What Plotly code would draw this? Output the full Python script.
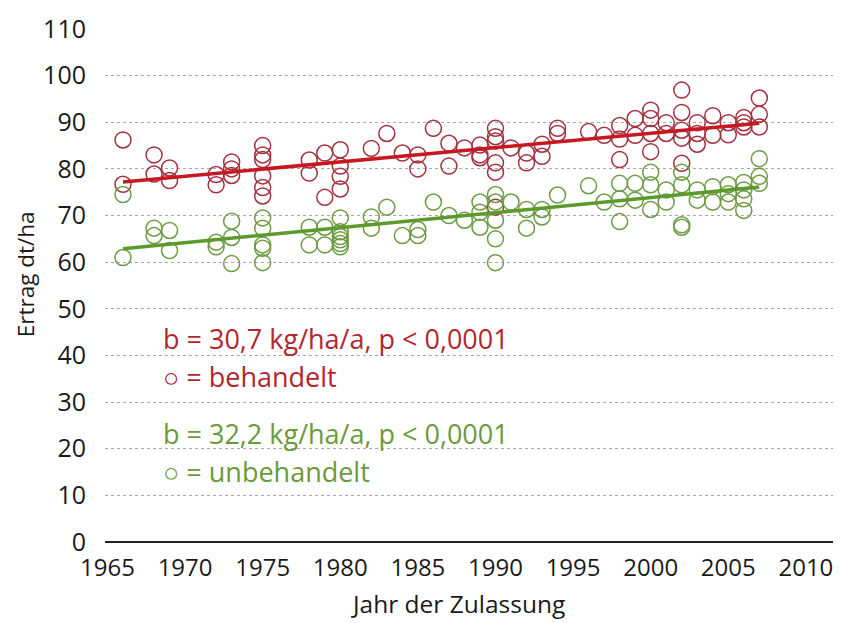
import plotly.graph_objects as go

# Behandelt (treated) yields
red_years = [1966, 1966, 1968, 1968, 1969, 1969, 1972, 1972, 1973, 1973, 1973,
             1975, 1975, 1975, 1975, 1975, 1975, 1978, 1978, 1979, 1979,
             1980, 1980, 1980, 1980, 1982, 1983, 1984, 1985, 1985, 1986, 1987, 1987,
             1988, 1989, 1989, 1989, 1990, 1990, 1990, 1990, 1990, 1990,
             1991, 1992, 1992, 1993, 1993, 1994, 1994,
             1996, 1997, 1998, 1998, 1998, 1999, 1999,
             2000, 2000, 2000, 2000, 2001, 2001,
             2002, 2002, 2002, 2002, 2002, 2003, 2003, 2003,
             2004, 2004, 2005, 2005, 2006, 2006, 2006, 2007, 2007, 2007]
red_values = [86.2, 76.7, 83.0, 78.9, 80.2, 77.5, 78.8, 76.6, 81.5, 80.0, 78.6,
              85.0, 83.0, 82.0, 78.5, 76.0, 74.2, 81.9, 79.1, 83.4, 73.9,
              84.1, 80.6, 78.4, 75.7, 84.4, 87.6, 83.4, 83.0, 80.0, 88.7, 85.5, 80.6,
              84.5, 85.1, 83.0, 82.4, 88.7, 86.9, 86.0, 81.3, 79.3, 71.8,
              84.5, 83.4, 81.3, 85.3, 82.7, 88.7, 87.6,
              88.0, 87.2, 89.3, 86.4, 82.0, 90.8, 87.2,
              92.6, 90.8, 87.6, 83.7, 89.9, 87.6,
              96.9, 92.1, 88.3, 86.6, 81.2, 89.9, 87.6, 85.3,
              91.4, 87.2, 89.9, 87.3, 91.0, 89.9, 89.0, 95.2, 91.7, 89.0]

# Unbehandelt (untreated) yields
green_years = [1966, 1966, 1968, 1968, 1969, 1969, 1972, 1972, 1973, 1973, 1973,
               1975, 1975, 1975, 1975, 1975, 1978, 1978, 1979, 1979,
               1980, 1980, 1980, 1980, 1980, 1980, 1982, 1982, 1983, 1984, 1985, 1985,
               1986, 1987, 1988, 1989, 1989, 1989, 1990, 1990, 1990, 1990, 1990,
               1991, 1992, 1992, 1993, 1993, 1994,
               1996, 1997, 1998, 1998, 1998, 1999, 1999,
               2000, 2000, 2000, 2001, 2001, 2002, 2002, 2002, 2002,
               2003, 2003, 2004, 2004, 2005, 2005, 2005,
               2006, 2006, 2006, 2006, 2007, 2007, 2007]
green_values = [74.5, 61.0, 67.3, 65.7, 66.8, 62.5, 64.3, 63.3, 68.8, 65.3, 59.7,
                69.5, 67.3, 63.7, 63.0, 59.9, 67.5, 63.7, 67.5, 63.7,
                69.5, 66.5, 65.5, 64.8, 64.0, 63.3, 69.7, 67.3, 71.8, 65.7, 67.0, 65.7,
                72.9, 70.0, 69.0, 72.9, 70.7, 67.5, 74.5, 72.9, 69.0, 65.0, 59.9,
                72.9, 71.3, 67.3, 71.3, 69.7, 74.4,
                76.4, 72.9, 76.9, 73.6, 68.7, 76.9, 73.3,
                79.3, 76.6, 71.3, 75.5, 72.9, 79.3, 76.6, 68.0, 67.5,
                75.5, 73.3, 76.2, 72.9, 76.6, 74.7, 72.9,
                77.1, 75.5, 73.6, 71.1, 82.2, 78.4, 76.9]

# Trend lines (endpoints)
trend_years = [1966, 2007]
red_trend = [77.2, 89.8]
green_trend = [62.9, 76.1]

y_ticks = [0, 10, 20, 30, 40, 50, 60, 70, 80, 90, 100, 110]
x_ticks = [1965, 1970, 1975, 1980, 1985, 1990, 1995, 2000, 2005, 2010]

RED_M = "#a33240"
GREEN_M = "#6e9c44"
RED_L = "#c8181f"
GREEN_L = "#5c9a2c"
RED_T = "#b3262c"
GREEN_T = "#6a9a3a"
FONT = "Open Sans"

# page body has an 8px default margin; plot area in page pixels:
PX0, PX1, PY0, PY1 = 105, 838, 28.5, 542


def px(xp):
    return (xp - PX0) / (PX1 - PX0)


def py(yp):
    return 1 - (yp - PY0) / (PY1 - PY0)


fig = go.Figure()
fig.add_trace(go.Scatter(x=red_years, y=red_values, mode="markers",
                         marker=dict(symbol="circle-open", size=16, color=RED_M,
                                     line=dict(width=1.5, color=RED_M)),
                         showlegend=False))
fig.add_trace(go.Scatter(x=green_years, y=green_values, mode="markers",
                         marker=dict(symbol="circle-open", size=16, color=GREEN_M,
                                     line=dict(width=1.5, color=GREEN_M)),
                         showlegend=False))
fig.add_trace(go.Scatter(x=trend_years, y=red_trend, mode="lines",
                         line=dict(color=RED_L, width=3.5), showlegend=False))
fig.add_trace(go.Scatter(x=trend_years, y=green_trend, mode="lines",
                         line=dict(color=GREEN_L, width=3.5), showlegend=False))

ann = []
texts = [("b = 30,7 kg/ha/a, p < 0,0001", 338, RED_T),
         ("○ = behandelt", 376, RED_T),
         ("b = 32,2 kg/ha/a, p < 0,0001", 433, GREEN_T),
         ("○ = unbehandelt", 471, GREEN_T)]
for t, ypx, c in texts:
    ann.append(dict(text=t, xref="paper", yref="paper", x=px(161),
                    y=py(ypx), xanchor="left", yanchor="middle",
                    showarrow=False, font=dict(family=FONT, size=27, color=c)))
ann.append(dict(text="Jahr der Zulassung", xref="paper", yref="paper",
                x=px(458), y=py(604), xanchor="center", yanchor="middle",
                showarrow=False, font=dict(family=FONT, size=24.5, color="#1a1a1a")))
ann.append(dict(text="Ertrag dt/ha", xref="paper", yref="paper",
                x=px(25), y=py(274), xanchor="center", yanchor="middle",
                showarrow=False, textangle=-90,
                font=dict(family=FONT, size=22.5, color="#1a1a1a")))

fig.update_layout(
    width=833, height=615,
    margin=dict(l=PX0 - 8, r=833 - (PX1 - 8), t=PY0 - 8, b=615 - (PY1 - 8)),
    paper_bgcolor="white", plot_bgcolor="white",
    font=dict(family=FONT, size=24, color="#1a1a1a"),
    annotations=ann,
    xaxis=dict(range=[1964.84, 2012.07], tickvals=x_ticks, showgrid=False,
               zeroline=False, showline=False, ticks="", ticklabelstandoff=9,
               tickfont=dict(size=24), automargin=False),
    yaxis=dict(range=[0, 110], tickvals=y_ticks, showgrid=True,
               gridcolor="#a8a8a8", gridwidth=1, griddash="dot",
               zeroline=True, zerolinecolor="#222222", zerolinewidth=2,
               showline=False, ticks="", ticklabelstandoff=18,
               tickfont=dict(size=25), automargin=False),
)

fig.write_html("out.html")
